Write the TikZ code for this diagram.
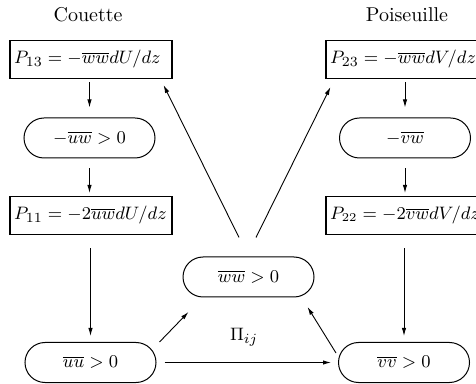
\documentclass[tikz,border=0pt]{standalone}
\usetikzlibrary{shapes.misc,arrows.meta}
\begin{document}
\begin{tikzpicture}[x=0.5pt,y=-0.5pt,
  mathfont/.style={font=\fontsize{9.3}{11}\selectfont},
  eqbox/.style={draw,line width=0.55pt,mathfont,text width=77pt,align=left,minimum height=19pt,inner xsep=2pt,inner ysep=2pt},
  pill/.style={draw,rounded rectangle,line width=0.5pt,mathfont,minimum width=69.5pt,minimum height=20pt,inner sep=2pt},
  arr/.style={line width=0.45pt,-{Latex[length=4pt,width=2.2pt]}},
  title/.style={inner sep=0pt}]
\useasboundingbox (0,0) rectangle (476,384);
\node[title] (cou) at (88,15) {Couette};
\node[title] (poi) at (407,15) {Poiseuille};
\node[eqbox] (p13) at (91,59.5) {$P_{13} = -\overline{ww}dU/dz$};
\node[pill] (uw) at (89.5,138) {$-\overline{uw} > 0$};
\node[eqbox] (p11) at (91,215.5) {$P_{11} = -2\overline{uw}dU/dz$};
\node[pill] (uu) at (90.5,362.5) {$\overline{uu} > 0$};
\node[eqbox] (p23) at (407,59.5) {$P_{23} = -\overline{ww}dV/dz$};
\node[pill] (vw) at (405,138) {$-\overline{vw}$};
\node[eqbox,font=\fontsize{8.8}{11}\selectfont] (p22) at (407,215.5) {$P_{22} = -2\overline{vw}dV/dz$};
\node[pill] (vv) at (404,362.5) {$\overline{vv} > 0$};
\node[pill] (ww) at (248.5,277) {$\overline{ww} > 0$};
\node[title,mathfont] (pi) at (244,337) {$\Pi_{ij}$};
% vertical chains
\draw[arr,shorten <=1.5pt,shorten >=5pt] (p13.south -| uw.north) -- (uw.north);
\draw[arr,shorten <=5pt,shorten >=1.5pt] (uw.south) -- (uw.south |- p11.north);
\draw[arr,shorten <=6.5pt,shorten >=3pt] (p11.south -| uu.north) -- (uu.north);
\draw[arr,shorten <=1.5pt,shorten >=5pt] (p23.south -| vw.north) -- (vw.north);
\draw[arr,shorten <=5pt,shorten >=1.5pt] (vw.south) -- (vw.south |- p22.north);
\draw[arr,shorten <=6.5pt,shorten >=3pt] (p22.south -| vv.north) -- (vv.north);
% horizontal
\draw[arr,shorten <=4pt,shorten >=3.5pt] (uu.east) -- (vv.west);
% diagonals
\draw[arr] ([shift={(3,-20.5)}]uu.east) -- ([shift={(6,35)}]ww.west);
\draw[arr] ([shift={(-2,-9.5)}]vv.west) -- ([shift={(-7,30)}]ww.east);
\draw[arr] ([shift={(-9.5,-19)}]ww.north) -- ([shift={(-9,6)}]p13.south east);
\draw[arr] ([shift={(7.5,-19)}]ww.north) -- ([shift={(5,8)}]p23.south west);
\end{tikzpicture}
\end{document}
